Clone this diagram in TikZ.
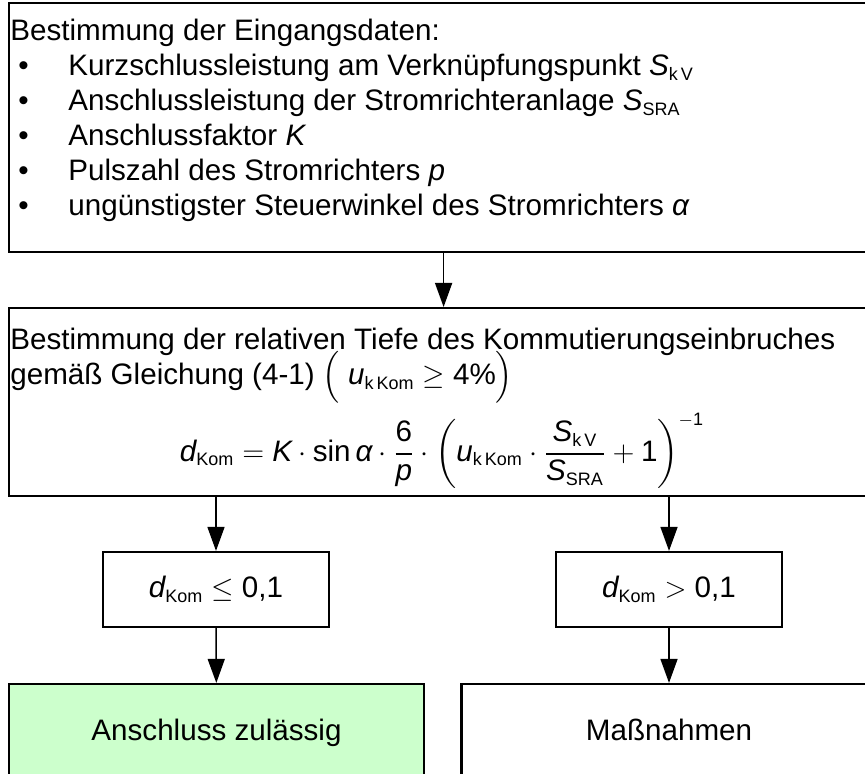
\documentclass[tikz,border=0pt]{standalone}
\usepackage{amsmath}
\usepackage{fontspec}
\setmainfont{Liberation Sans}
\usepackage{tikz}
\usetikzlibrary{positioning, arrows.meta, calc}
\usepackage{xcolor}
\definecolor{okgreen}{HTML}{CCFFCC}
\DeclareMathSizes{14.8}{14.8}{9}{7}
\newcommand{\mvar}[1]{\text{\itshape #1}}
\newcommand{\mtxt}[1]{\text{\upshape #1}}
\newcommand{\itembul}{\makebox[29pt][l]{\hspace{4pt}\textbullet}}

\begin{document}
\begin{tikzpicture}[x=0.5pt, y=-0.5pt,
  box/.style={draw, line width=1.1pt, rectangle, inner sep=0pt, font=\fontsize{14.8}{17.5}\selectfont},
  txt/.style={inner sep=0pt, align=left, font=\fontsize{14.8}{17.5}\selectfont},
  arr/.style={-{Triangle[length=12pt, width=8.5pt]}, line width=0.75pt}]
\useasboundingbox (0,0) rectangle (865,774);
\clip (0,0) rectangle (865,774);

% Eingangsdaten
\node[box, anchor=north west, minimum width=434.5pt, minimum height=124.5pt] (input) at (8,2) {};
\node[txt, anchor=north west] (inputtxt) at ([shift={(2,17)}]input.north west) {%
Bestimmung der Eingangsdaten:\\
\itembul Kurzschlussleistung am Verknüpfungspunkt $\mvar{S}_{\mtxt{k\,V}}$\\
\itembul Anschlussleistung der Stromrichteranlage $\mvar{S}_{\mtxt{SRA}}$\\
\itembul Anschlussfaktor \textit{K}\\
\itembul Pulszahl des Stromrichters \textit{p}\\
\itembul ungünstigster Steuerwinkel des Stromrichters \textit{α}};

% Tiefe des Kommutierungseinbruches
\node[box, anchor=north west, minimum width=434.5pt, minimum height=94pt] (depth) at (8,307) {};
\node[txt, anchor=north west] (depthtxt) at ([shift={(2,21)}]depth.north west) {%
Bestimmung der relativen Tiefe des Kommutierungseinbruches\\
gemäß Gleichung (4-1) $\smash{\Bigl(}\;\mvar{u}_{\mtxt{k\,Kom}}\geq\mtxt{4\%}\smash{\Bigr)}$};
\node[txt] (formula) at (442,451) {$\displaystyle
\mvar{d}_{\mtxt{Kom}} = \mvar{K}\cdot\mtxt{sin}\,\mvar{α}\cdot\frac{\mtxt{6}}{\mvar{p}}\cdot
\left(\mvar{u}_{\mtxt{k\,Kom}}\cdot\frac{\mvar{S}_{\mtxt{k\,V}}}{\mvar{S}_{\mtxt{SRA}}}+\mtxt{1}\right)^{-\mtxt{1}}$};

% Fallunterscheidung
\node[box, minimum width=113pt, minimum height=37.5pt] (low) at (216,589.5) {$\mvar{d}_{\mtxt{Kom}}\leq\mtxt{0,1}$};
\node[box, minimum width=113pt, minimum height=37.5pt] (high) at (669,589.5) {$\mvar{d}_{\mtxt{Kom}}>\mtxt{0,1}$};

% Ergebnis
\node[box, fill=okgreen, minimum width=207.5pt, minimum height=48pt, text height=11pt, text depth=3pt] (ok) at (216.5,732) {Anschluss zulässig};
\node[box, minimum width=207.5pt, minimum height=48pt, text height=11pt, text depth=3pt] (measures) at (669,732) {Maßnahmen};

\draw[arr] (input) -- (depth);
\draw[arr] (low |- depth.south) -- (low);
\draw[arr] (high |- depth.south) -- (high);
\draw[arr] (low) -- (ok);
\draw[arr] (high) -- (measures);
\end{tikzpicture}
\end{document}
